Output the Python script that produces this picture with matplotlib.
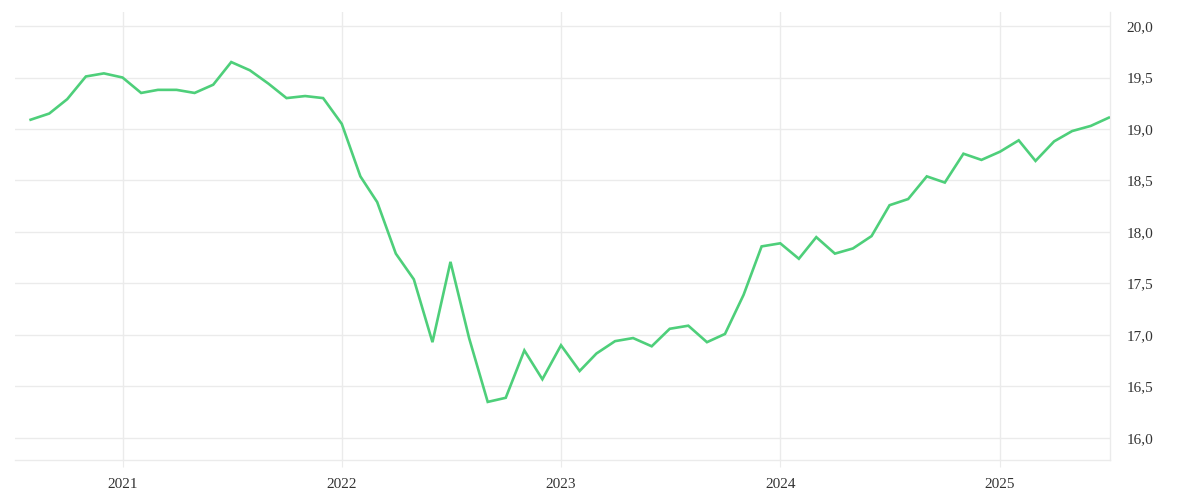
import matplotlib
matplotlib.use("Agg")
import matplotlib.pyplot as plt
import matplotlib.dates as mdates
from matplotlib.ticker import FuncFormatter, FixedLocator
import pandas as pd
import datetime as dt

dates = pd.date_range("2020-08-01", "2025-07-01", freq="MS")
values = [
    19.09, 19.15, 19.29, 19.51, 19.54,
    19.50, 19.35, 19.38, 19.38, 19.35, 19.43, 19.65, 19.57, 19.44, 19.30, 19.32, 19.30,
    19.05, 18.54, 18.29, 17.79, 17.54, 16.93, 17.71, 16.97, 16.35, 16.39, 16.85, 16.57,
    16.90, 16.65, 16.82, 16.94, 16.97, 16.89, 17.06, 17.09, 16.93, 17.01, 17.39, 17.86,
    17.89, 17.74, 17.95, 17.79, 17.84, 17.96, 18.26, 18.32, 18.54, 18.48, 18.76, 18.70,
    18.78, 18.89, 18.69, 18.88, 18.98, 19.03, 19.11,
]
y_ticks = [16.0, 16.5, 17.0, 17.5, 18.0, 18.5, 19.0, 19.5, 20.0]
x_tick_years = [2021, 2022, 2023, 2024, 2025]

grid_c = "#ebebeb"
plt.rcParams["font.family"] = ["Liberation Serif", "DejaVu Serif"]

fig = plt.figure(figsize=(12, 5), dpi=100)
ax = fig.add_axes([0.0125, 0.08, 0.9125, 0.896])

ax.plot(dates, values, color="#4ecf7a", linewidth=1.9, solid_joinstyle="miter", zorder=3)

ax.set_xlim(dt.datetime(2020, 7, 6), dt.datetime(2025, 7, 3))
ax.set_ylim(15.786, 20.136)

ax.xaxis.set_major_locator(FixedLocator([mdates.date2num(dt.datetime(y, 1, 1)) for y in x_tick_years]))
ax.xaxis.set_major_formatter(FuncFormatter(lambda v, p: str(mdates.num2date(v).year)))
ax.yaxis.set_major_locator(FixedLocator(y_ticks))
ax.yaxis.set_major_formatter(FuncFormatter(lambda v, p: f"{v:.1f}".replace(".", ",")))

ax.yaxis.tick_right()
ax.grid(True, color=grid_c, linewidth=1.0)
ax.set_axisbelow(True)

for s in ["top", "left"]:
    ax.spines[s].set_visible(False)
ax.spines["right"].set_color(grid_c)
ax.spines["bottom"].set_color(grid_c)
ax.spines["right"].set_linewidth(1.0)
ax.spines["bottom"].set_linewidth(1.0)

ax.tick_params(axis="y", length=0, pad=12, labelsize=11, labelcolor="#333333")
ax.tick_params(axis="x", length=5, color=grid_c, pad=8, labelsize=11, labelcolor="#333333")

fig.savefig("out.png", dpi=100, facecolor="white")
